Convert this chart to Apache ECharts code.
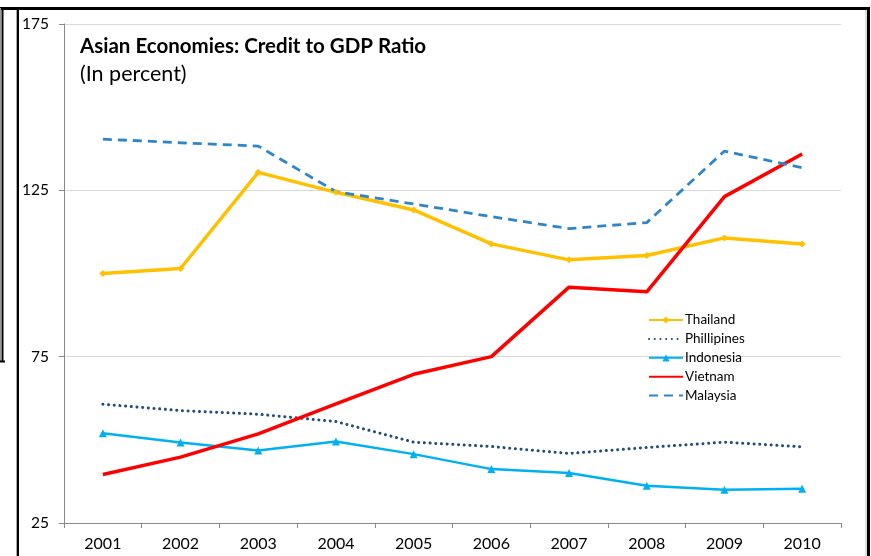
<!DOCTYPE html>
<html>
<head>
<meta charset="utf-8">
<script src="https://cdn.jsdelivr.net/npm/echarts@6/dist/echarts.min.js"></script>
<style>
  html, body { margin: 0; padding: 0; background: #fff; }
  #chart { width: 871px; height: 556px; }
</style>
</head>
<body>
<div id="chart"></div>
<script>
// Credit to GDP ratio, percent
const years = ['2001','2002','2003','2004','2005','2006','2007','2008','2009','2010'];
const thailand    = [100.0, 101.5, 130.4, 124.4, 119.1, 108.9, 104.1, 105.4, 110.7, 108.9];
const phillipines = [60.7, 58.8, 57.7, 55.5, 49.3, 48.0, 45.9, 47.7, 49.3, 47.9];
const indonesia   = [52.0, 49.2, 46.8, 49.5, 45.7, 41.2, 40.0, 36.2, 35.0, 35.3];
const vietnam     = [39.6, 44.8, 51.8, 60.8, 69.7, 75.0, 95.9, 94.5, 123.1, 135.9];
const malaysia    = [140.4, 139.3, 138.3, 124.6, 120.9, 117.1, 113.5, 115.3, 136.8, 131.8];

const FONT = 'Lato';
const chart = echarts.init(document.getElementById('chart'), null, { renderer: 'canvas' });

// Frame lines around the picture
const frame = [
  { shape: { x1: 0, y1: 8.5, x2: 870, y2: 8.5 }, w: 3, c: '#000' },
  { shape: { x1: 2.5, y1: 8, x2: 2.5, y2: 362 }, w: 2, c: '#000' },
  { shape: { x1: 0.5, y1: 8, x2: 0.5, y2: 362 }, w: 1, c: '#999' },
  { shape: { x1: 0, y1: 361.5, x2: 5, y2: 361.5 }, w: 2, c: '#000' },
  { shape: { x1: 18, y1: 10, x2: 18, y2: 556 }, w: 2, c: '#000' },
  { shape: { x1: 16.5, y1: 10, x2: 16.5, y2: 556 }, w: 1, c: '#aaa' },
  { shape: { x1: 868.5, y1: 8, x2: 868.5, y2: 556 }, w: 3, c: '#000' },
  { shape: { x1: 866, y1: 10, x2: 866, y2: 556 }, w: 1, c: '#bbb' }
].map(f => ({ type: 'line', shape: f.shape, style: { stroke: f.c, lineWidth: f.w }, silent: true }));

// legend entries for plain lines carry no marker
const plain = { itemStyle: { opacity: 0 } };

chart.setOption({
  animation: false,
  backgroundColor: '#fff',
  grid: { left: 64, right: 30, top: 24, bottom: 33 },
  graphic: frame.concat([
    { type: 'text', left: 80, top: 36, style: { text: 'Asian Economies: Credit to GDP Ratio', font: 'bold 20.5px ' + FONT, fill: '#000' } },
    { type: 'text', left: 80, top: 63, style: { text: '(In percent)', font: '21.5px ' + FONT, fill: '#000' } }
  ]),
  legend: {
    orient: 'vertical',
    left: 648,
    top: 313,
    padding: 0,
    itemWidth: 34,
    itemHeight: 9,
    itemGap: 4.9,
    textStyle: { fontFamily: FONT, fontSize: 13.5, color: '#000', padding: [0, 0, 0, -3] },
    data: [
      { name: 'Thailand' },
      Object.assign({ name: 'Phillipines' }, plain),
      { name: 'Indonesia' },
      Object.assign({ name: 'Vietnam' }, plain),
      Object.assign({ name: 'Malaysia' }, plain)
    ]
  },
  xAxis: {
    type: 'category',
    data: years,
    boundaryGap: true,
    axisLine: { lineStyle: { color: '#888', width: 1 } },
    axisTick: { show: true, length: 5, lineStyle: { color: '#888' } },
    axisLabel: { fontFamily: FONT, fontSize: 16, color: '#000', margin: 13 }
  },
  yAxis: {
    type: 'value',
    min: 25, max: 175, interval: 50,
    axisLine: { show: true, lineStyle: { color: '#888', width: 1 } },
    axisTick: { show: true, length: 5, lineStyle: { color: '#888' } },
    axisLabel: { fontFamily: FONT, fontSize: 15.5, color: '#000', margin: 15 },
    splitLine: { lineStyle: { color: '#d9d9d9', width: 1 } }
  },
  series: [
    {
      name: 'Thailand', type: 'line', data: thailand,
      symbol: 'diamond', symbolSize: 7, showSymbol: true,
      itemStyle: { color: '#FFC000' },
      lineStyle: { color: '#FFC000', width: 3.5 }
    },
    {
      name: 'Phillipines', type: 'line', data: phillipines,
      symbol: 'none',
      itemStyle: { color: '#1F4E79' },
      lineStyle: { color: '#1F4E79', width: 3, type: [0.1, 5.6], cap: 'round' }
    },
    {
      name: 'Indonesia', type: 'line', data: indonesia,
      symbol: 'triangle', symbolSize: 8,
      itemStyle: { color: '#00B0F0' },
      lineStyle: { color: '#00B0F0', width: 2.5 }
    },
    {
      name: 'Vietnam', type: 'line', data: vietnam,
      symbol: 'none',
      itemStyle: { color: '#FF0000' },
      lineStyle: { color: '#FF0000', width: 3.5 }
    },
    {
      name: 'Malaysia', type: 'line', data: malaysia,
      symbol: 'none',
      itemStyle: { color: '#2E86C8' },
      lineStyle: { color: '#2E86C8', width: 2.8, type: [9, 6] }
    }
  ]
});
</script>
</body>
</html>
